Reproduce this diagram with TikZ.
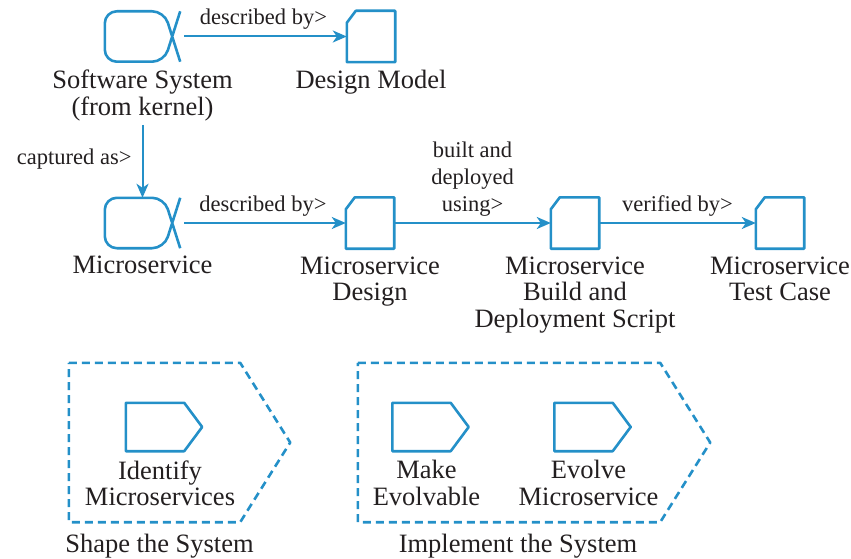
\documentclass[tikz,border=0pt]{standalone}
\usepackage{fontspec}
\setmainfont{Liberation Serif}
\usetikzlibrary{arrows.meta,positioning}

\definecolor{essblue}{RGB}{36,144,200}
\definecolor{ink}{RGB}{35,31,32}

\tikzset{
  alphanode/.style={inner sep=0pt, minimum width=75pt, minimum height=50pt},
  wpnode/.style={inner sep=0pt, minimum width=48pt, minimum height=51pt},
  actnode/.style={inner sep=0pt, minimum width=76pt, minimum height=48pt},
  spacenode/.style={inner sep=0pt, minimum width=#1, minimum height=159pt},
  outline/.style={draw=essblue, line width=2.6pt, line join=round},
  conn/.style={draw=essblue, line width=2pt, -{Stealth[length=14pt,width=12pt,inset=4pt]}},
  lbl/.style={inner sep=0pt, align=center, text=ink, font=\fontsize{26.5}{26.5}\selectfont},
  elbl/.style={inner sep=0pt, align=center, text=ink, font=\fontsize{22.5}{27}\selectfont}
}

\begin{document}
\begin{tikzpicture}[x=1pt, y=-1pt]
  \useasboundingbox (0,0) rectangle (851,559);

  % alphas and work products
  \node[alphanode] (sys) at (142.5,36.5) {};
  \node[wpnode] (dm) at (371,36.5) {};
  \node[alphanode] (ms) at (142.5,223) {};
  \node[wpnode] (msd) at (370,223) {};
  \node[wpnode] (msb) at (575,223) {};
  \node[wpnode] (mst) at (780,223) {};

  \foreach \n in {sys,ms}
    \draw[outline, rounded corners=12pt] (\n.north east) -- ([xshift=-16pt]\n.south east)
      -- (\n.south west) -- (\n.north west) -- ([xshift=-16pt]\n.north east) -- (\n.south east);
  \foreach \n in {dm,msd,msb,mst}
    \draw[outline] ([yshift=-12pt]\n.north west) -- ([xshift=9pt]\n.north west)
      -- (\n.north east) -- (\n.south east) -- (\n.south west) -- cycle;

  \node[lbl, below=8pt of sys] (syslbl) {Software System\\(from kernel)};
  \node[lbl, below=8pt of dm] (dmlbl) {Design Model};
  \node[lbl, below=8pt of ms] (mslbl) {Microservice};
  \node[lbl, below=8pt of msd] (msdlbl) {Microservice\\Design};
  \node[lbl, below=8pt of msb] (msblbl) {Microservice\\Build and\\Deployment Script};
  \node[lbl, below=8pt of mst] (mstlbl) {Microservice\\Test Case};

  % connectors
  \draw[conn, shorten <=4pt] (sys) -- node[elbl, above=6pt] {described by>} (dm);
  \draw[conn, shorten <=4pt] (syslbl) -- node[elbl, left=10pt] {captured as>} (ms);
  \draw[conn, shorten <=4pt] (ms) -- node[elbl, above=6pt] {described by>} (msd);
  \draw[conn] (msd) -- node[elbl, above=6pt] {built and\\deployed\\using>} (msb);
  \draw[conn] (msb) -- node[elbl, above=6pt] {verified by>} (mst);

  % activity spaces
  \node[spacenode=171pt] (shp) at (154.5,442.5) {};
  \node[spacenode=302pt] (imp) at (509,442.5) {};
  \foreach \n in {shp,imp}
    \draw[outline, dash pattern=on 8pt off 5pt] (\n.north west) -- (\n.north east)
      -- ([xshift=50pt]\n.east) -- (\n.south east) -- (\n.south west) -- cycle;
  \node[lbl, below=12pt of shp, xshift=5pt] (shplbl) {Shape the System};
  \node[lbl, below=12pt of imp, xshift=9pt] (implbl) {Implement the System};

  % activities
  \node[actnode] (idm) at (164,427) {};
  \node[actnode] (mke) at (430.5,427) {};
  \node[actnode] (evm) at (592.5,427) {};
  \foreach \n in {idm,mke,evm}
    \draw[outline] (\n.north west) -- ([xshift=-18pt]\n.north east) -- (\n.east)
      -- ([xshift=-18pt]\n.south east) -- (\n.south west) -- cycle;
  \node[lbl, below=9pt of idm, xshift=-4pt] (idmlbl) {Identify\\Microservices};
  \node[lbl, below=9pt of mke, xshift=-4pt] (mkelbl) {Make\\Evolvable};
  \node[lbl, below=9pt of evm, xshift=-4pt] (evmlbl) {Evolve\\Microservice};
\end{tikzpicture}
\end{document}
